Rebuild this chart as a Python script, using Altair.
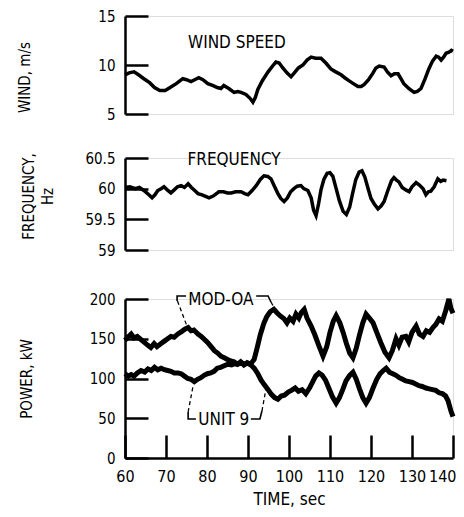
import altair as alt
import pandas as pd

FONT = "DejaVu Sans Condensed"

# ---------------- data ----------------
wind_t = [60.0, 61.0, 62.2, 63.3, 64.6, 66.0, 67.2, 68.5, 69.8, 71.0, 72.5, 74.1, 75.0, 76.1, 77.0, 78.0,
          79.0, 80.2, 81.5, 82.5, 83.4, 84.1, 85.3, 86.6, 87.5, 88.3, 89.5, 90.5, 91.2, 91.8, 92.4, 93.5,
          94.9, 96.0, 96.8, 97.6, 98.5, 99.5, 100.5, 101.3, 102.3, 103.4, 104.4, 105.4, 106.5, 107.8,
          109.0, 110.2, 111.4, 112.7, 113.6, 114.6, 115.7, 116.8, 117.6, 118.3, 119.4, 120.5, 121.2,
          122.0, 123.2, 124.0, 124.9, 125.7, 126.6, 127.3, 128.0, 129.2, 130.5, 131.3, 132.2, 133.2,
          134.1, 135.0, 135.9, 136.5, 137.1, 137.7, 138.3, 139.0, 139.6, 140.0]
wind_v = [9.0, 9.2, 9.3, 9.0, 8.6, 8.2, 7.7, 7.4, 7.4, 7.7, 8.1, 8.6, 8.5, 8.3, 8.5, 8.7,
          8.5, 8.1, 7.9, 7.7, 7.6, 7.9, 7.6, 7.2, 7.3, 7.2, 7.0, 6.6, 6.2, 6.7, 7.5, 8.4,
          9.3, 9.9, 10.3, 10.2, 9.7, 9.2, 8.8, 9.2, 9.7, 10.0, 10.5, 10.8, 10.7, 10.7,
          10.2, 9.6, 9.3, 9.0, 8.7, 8.4, 8.1, 7.8, 7.8, 8.0, 8.5, 9.2, 9.7,
          9.9, 9.8, 9.3, 8.9, 9.1, 9.1, 8.6, 8.1, 7.6, 7.2, 7.3, 7.6, 8.6,
          9.6, 10.4, 10.9, 10.8, 10.5, 10.8, 11.2, 11.3, 11.5, 11.4]

freq_t = [60.0, 61.2, 62.5, 63.5, 64.6, 65.5, 66.6, 67.3, 68.0, 68.8, 69.5, 70.3, 71.2, 72.0, 72.8,
          73.7, 74.5, 75.4, 76.2, 77.0, 77.8, 78.8, 79.8, 80.5, 81.5, 82.9, 84.0, 85.0, 85.9, 87.0,
          88.3, 89.2, 90.0, 91.0, 92.0, 93.0, 93.9, 94.8, 95.6, 96.5, 97.3, 98.0, 98.8, 99.6, 100.4,
          101.2, 102.0, 102.9, 103.6, 104.6, 105.4, 106.0, 106.6, 107.2, 107.8, 108.5, 109.3, 110.0,
          110.7, 111.5, 112.3, 113.2, 114.0, 114.8, 115.5, 116.3, 117.1, 117.8, 118.5, 119.3, 120.0,
          120.8, 121.7, 122.5, 123.2, 124.0, 125.0, 125.6, 126.2, 126.8, 127.6, 128.5, 129.3, 130.0,
          131.0, 131.8, 132.7, 133.4, 134.0, 134.6, 135.4, 136.3, 137.0, 137.6, 138.4]
freq_v = [60.02, 60.03, 60.0, 60.02, 59.97, 59.92, 59.85, 59.9, 59.97, 60.0, 60.03, 59.98, 59.93, 59.98, 60.03,
          60.05, 60.02, 60.08, 60.02, 59.97, 59.92, 59.9, 59.87, 59.85, 59.88, 59.95, 59.95, 59.93, 59.93, 59.95,
          59.95, 59.92, 59.9, 59.97, 60.05, 60.15, 60.21, 60.2, 60.16, 60.03, 59.92, 59.84, 59.79, 59.85, 59.95,
          60.0, 60.04, 60.05, 60.0, 59.97, 59.85, 59.65, 59.56, 59.75, 59.98, 60.15, 60.25, 60.26,
          60.2, 60.0, 59.8, 59.63, 59.58, 59.7, 59.92, 60.15, 60.27, 60.29, 60.19, 60.0, 59.84,
          59.75, 59.67, 59.72, 59.79, 59.95, 60.13, 60.18, 60.14, 60.11, 60.02, 59.98, 59.95, 60.03,
          60.1, 60.06, 60.0, 59.9, 59.95, 59.96, 60.03, 60.16, 60.12, 60.14, 60.13]

mod_t = [60.0, 60.7, 61.5, 62.2, 63.0, 63.9, 64.8, 65.5, 66.3, 67.1, 67.8, 68.8, 69.6, 70.4, 71.2, 72.0,
         72.9, 73.8, 74.6, 75.4, 76.1, 76.8, 77.8, 78.6, 79.4, 80.2, 81.0, 81.8, 82.6, 83.4, 84.2, 85.0,
         85.8, 86.6, 87.4, 88.2, 89.0, 89.8, 90.6, 91.5, 92.2, 93.0, 93.9, 94.6, 95.4, 96.3, 97.0, 97.8,
         98.8, 99.5, 100.2, 101.0, 101.7, 102.4, 103.0, 103.7, 104.4, 105.4, 106.3, 107.3, 108.3, 109.2,
         110.0, 110.8, 111.5, 112.4, 113.2, 114.0, 114.8, 115.6, 116.4, 117.2, 118.0, 118.8, 119.6, 120.5,
         121.4, 122.4, 123.4, 124.4, 125.2, 126.1, 126.8, 127.6, 128.5, 129.2, 130.0, 131.0, 131.8, 132.7,
         133.5, 134.3, 135.1, 135.8, 136.6, 137.4, 138.2, 139.0, 139.5, 140.0]
mod_p = [148, 152, 156, 151, 153, 149, 145, 142, 139, 144, 140, 144, 147, 150, 153, 152,
         156, 159, 162, 164, 160, 161, 156, 153, 149, 145, 140, 135, 132, 128, 126, 124,
         122, 121, 118, 121, 117, 120, 118, 124, 138, 155, 170, 178, 184, 187, 183, 179,
         175, 170, 176, 172, 181, 176, 183, 187, 176, 166, 155, 141, 128, 140,
         158, 172, 179, 170, 158, 144, 132, 126, 138, 155, 170, 181, 176, 170,
         158, 145, 133, 126, 135, 150, 142, 152, 153, 146, 158, 166, 156, 153,
         160, 158, 164, 168, 175, 172, 185, 200, 188, 182]

unit_t = [60.0, 60.8, 61.5, 62.2, 63.0, 63.9, 64.8, 65.6, 66.4, 67.2, 68.0, 68.8, 69.6, 70.4, 71.2, 72.0,
          72.9, 73.7, 74.5, 75.3, 76.1, 76.9, 77.7, 78.5, 79.3, 80.1, 80.9, 81.7, 82.5, 83.3, 84.2, 85.1,
          86.0, 86.8, 87.6, 88.3, 89.2, 90.0, 90.7, 91.5, 92.4, 93.2, 94.0, 94.9, 95.7, 96.5, 97.3, 98.1,
          98.9, 99.8, 100.6, 101.5, 102.3, 103.2, 104.1, 105.0, 105.8, 106.5, 107.3, 108.1, 108.9, 109.7,
          110.6, 111.5, 112.3, 113.1, 113.9, 114.8, 115.6, 116.4, 117.2, 118.0, 118.8, 119.6, 120.5, 121.4,
          122.2, 123.0, 123.7, 124.5, 125.3, 126.1, 126.9, 127.7, 128.5, 129.3, 130.1, 130.9, 131.7, 132.5,
          133.4, 134.2, 135.0, 135.8, 136.6, 137.4, 138.2, 138.8, 139.5, 140.0]
unit_p = [106, 103, 105, 103, 107, 110, 108, 112, 110, 114, 111, 113, 111, 110, 109, 107,
          107, 106, 103, 100, 99, 96, 99, 101, 104, 106, 107, 109, 113, 114, 116, 118,
          117, 119, 118, 120, 118, 119, 117, 113, 106, 98, 92, 86, 80, 76, 74, 78,
          79, 83, 85, 88, 84, 86, 81, 88, 96, 103, 107, 104, 98, 88,
          77, 69, 76, 86, 97, 104, 108, 99, 87, 76, 69, 76, 88, 99,
          106, 110, 113, 108, 106, 104, 101, 99, 97, 96, 95, 93, 91, 90,
          88, 87, 86, 85, 82, 81, 78, 72, 59, 52]

# in-plot labels
wind_label = ["WIND SPEED"]
wind_label_t = [87.3]
wind_label_v = [12.2]
freq_label = ["FREQUENCY"]
freq_label_t = [86.6]
freq_label_v = [60.47]
power_labels = ["MOD-OA", "UNIT 9"]
power_labels_t = [83.4, 84.1]
power_labels_p = [198.5, 47.5]

# bracket (solid) and leader (dashed) annotation paths, in data units
bracket_seg = [0, 0, 0, 1, 1, 1, 2, 2, 2, 3, 3, 3]
bracket_t = [74.9, 72.7, 72.7, 92.0, 94.9, 95.6, 77.3, 75.4, 75.4, 90.7, 92.9, 93.4]
bracket_p = [203.8, 203.8, 197.5, 203.8, 203.8, 196.2, 49.1, 49.1, 57.9, 49.1, 49.1, 59.1]
leader_seg = [0, 0, 1, 1, 2, 2, 3, 3]
leader_t = [72.8, 75.1, 95.6, 96.4, 75.4, 76.6, 93.4, 94.6]
leader_p = [197.5, 166.0, 196.2, 189.0, 57.9, 90.6, 59.1, 93.1]

x_ticks = [60, 70, 80, 90, 100, 110, 120, 130, 140]
wind_ticks = [5, 10, 15]
freq_ticks = [59, 59.5, 60, 60.5]
power_ticks = [0, 50, 100, 150, 200]

# ---------------- frames ----------------
wind_df = pd.DataFrame({"t": wind_t, "v": wind_v})
freq_df = pd.DataFrame({"t": freq_t, "v": freq_v})
power_df = pd.concat([
    pd.DataFrame({"t": mod_t, "p": mod_p, "s": "MOD-OA"}),
    pd.DataFrame({"t": unit_t, "p": unit_p, "s": "UNIT 9"}),
])
br_df = pd.DataFrame({"t": bracket_t, "p": bracket_p, "seg": bracket_seg,
                      "o": list(range(len(bracket_t)))})
ld_df = pd.DataFrame({"t": leader_t, "p": leader_p, "seg": leader_seg,
                      "o": list(range(len(leader_t)))})

W = 328
H_POWER = 159
xscale = alt.Scale(domain=[60, 140], nice=False, zero=False)
x_none = alt.X("t:Q", scale=xscale, axis=None)

def yaxis(values, title, titleX, fmt, titleY=None):
    kw = dict(values=values, tickCount=20, format=fmt, title=title, titleX=titleX, grid=True, ticks=False,
              gridColor="black", gridWidth=2.5, gridDash=[23, 1000], gridOpacity=1,
              domainColor="black", domainWidth=2.5, labelOverlap=False, labelFlush=False,
              labelFont=FONT, labelFontSize=15, labelColor="black", labelPadding=10,
              titleFont=FONT, titleFontSize=15, titleColor="black", titleFontWeight="normal",
              titleBaseline="alphabetic", titleLineHeight=19)
    if titleY is not None:
        kw["titleY"] = titleY
    return alt.Axis(**kw)

# wind panel
wind_line = alt.Chart(wind_df).mark_line(color="black", strokeWidth=3.5).encode(
    x=x_none,
    y=alt.Y("v:Q", scale=alt.Scale(domain=[5, 15], nice=False, zero=False),
            axis=yaxis(wind_ticks, "WIND, m/s", -96, "d", 61)),
)
wind_text = alt.Chart(pd.DataFrame({"t": wind_label_t, "v": wind_label_v, "l": wind_label})).mark_text(
    font=FONT, fontSize=17, color="black").encode(x=x_none, y="v:Q", text="l:N")
wind = alt.layer(wind_line, wind_text).properties(width=W, height=98)

# frequency panel
freq_line = alt.Chart(freq_df).mark_line(color="black", strokeWidth=3.5).encode(
    x=x_none,
    y=alt.Y("v:Q", scale=alt.Scale(domain=[59, 60.5], nice=False, zero=False),
            axis=yaxis(freq_ticks, ["FREQUENCY,", "Hz"], -92, ".1~f", 38)),
)
freq_text = alt.Chart(pd.DataFrame({"t": freq_label_t, "v": freq_label_v, "l": freq_label})).mark_text(
    font=FONT, fontSize=17, color="black").encode(x=x_none, y="v:Q", text="l:N")
freq = alt.layer(freq_line, freq_text).properties(width=W, height=92)

# power panel
x_axis = alt.X("t:Q", scale=xscale, axis=alt.Axis(
    values=x_ticks, tickCount=20, format="d", title="TIME, sec", grid=True, ticks=False,
    gridColor="black", gridWidth=2.5, gridDash=[0, H_POWER - 23, 23, 1000], gridOpacity=1,
    domainColor="black", domainWidth=2.5, labelOverlap=False, labelFlush=False,
    labelAlign={"condition": {"test": "datum.value >= 140", "value": "right"}, "value": "center"},
    labelOffset={"condition": {"test": "datum.value >= 140", "value": 3}, "value": 0},
    labelFont=FONT, labelFontSize=16, labelColor="black", labelPadding=10,
    titleFont=FONT, titleFontSize=17, titleColor="black", titleFontWeight="normal", titlePadding=7))
y_power = alt.Y("p:Q", scale=alt.Scale(domain=[0, 200], nice=False, zero=False),
                axis=yaxis(power_ticks, "POWER, kW", -94, "d"))

power_line = alt.Chart(power_df).mark_line(color="black", strokeWidth=5).encode(
    x=x_axis, y=y_power, detail="s:N")
br_line = alt.Chart(br_df).mark_line(color="black", strokeWidth=1.6).encode(
    x="t:Q", y="p:Q", detail="seg:N", order="o:Q")
ld_line = alt.Chart(ld_df).mark_line(color="black", strokeWidth=1.3, strokeDash=[4, 3]).encode(
    x="t:Q", y="p:Q", detail="seg:N", order="o:Q")
power_text = alt.Chart(pd.DataFrame({"t": power_labels_t, "p": power_labels_p, "l": power_labels})).mark_text(
    font=FONT, fontSize=17, color="black").encode(x="t:Q", y="p:Q", text="l:N")
power = alt.layer(power_line, br_line, ld_line, power_text).properties(width=W, height=H_POWER)

top = alt.vconcat(wind, freq, spacing=27)
chart = alt.vconcat(top, power, spacing=29).properties(
    padding={"left": 8, "top": 0, "right": -8, "bottom": 2}
).configure_view(stroke=None).configure(background="white").configure_axis(
    labelOverlap=False, labelSeparation=0
)

chart.save("out.html", embed_options={"renderer": "svg", "actions": False})
